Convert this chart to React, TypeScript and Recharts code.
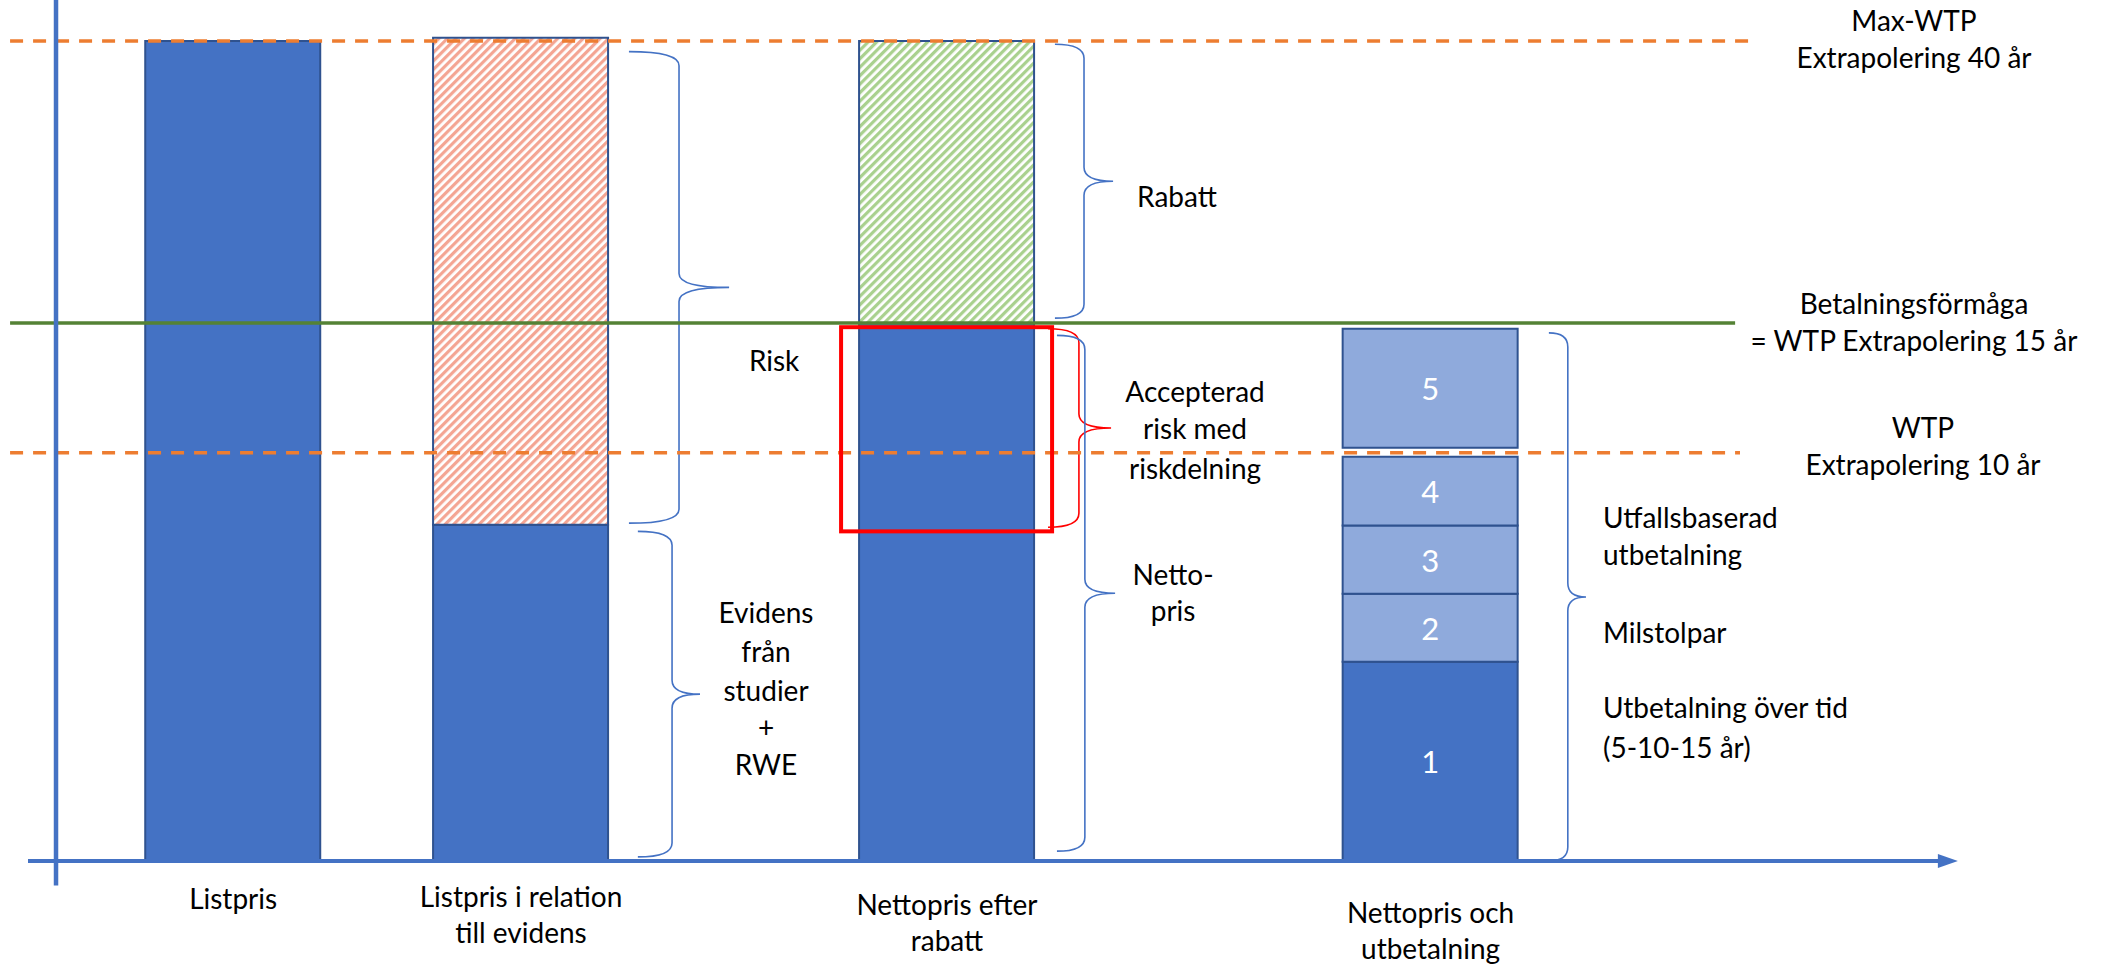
import React from "react";
import {
  ComposedChart,
  Bar,
  XAxis,
  YAxis,
  ReferenceLine,
  ReferenceArea,
  Cell,
  LabelList,
} from "recharts";

// --- data (value axis: Max-WTP = 100) ---
const categoryLines = [
  ["Listpris"],
  ["Listpris i relation", "till evidens"],
  ["Nettopris efter", "rabatt"],
  ["Nettopris och", "utbetalning"],
];
const categoryPos = [1, 2, 3.48, 5.16];
const solidValues = [100, 41, 65.6, 24.3];
const hatchedValues = [0, 59.4, 34.4, 0];
const seg2Values = [0, 0, 0, 8.3];
const seg3Values = [0, 0, 0, 8.3];
const seg4Values = [0, 0, 0, 8.4];
const gapValues = [0, 0, 0, 1.1];
const seg5Values = [0, 0, 0, 14.5];
const segmentNumbers = ["1", "2", "3", "4", "5"];

const maxWtp = 100;
const paymentCapacity = 65.6;
const wtp10 = 49.8;
// accepted risk (red box) on the net-price bar
const riskLow = 40.2;
const riskHigh = 65.1;

const data = categoryPos.map((pos, i) => ({
  pos,
  solid: solidValues[i],
  hatched: hatchedValues[i],
  s2: seg2Values[i],
  s3: seg3Values[i],
  s4: seg4Values[i],
  gap: gapValues[i],
  s5: seg5Values[i],
}));

const W = 2107;
const H = 966;
const FONT = "Lato, 'Open Sans', sans-serif";
const FS = 28;
const BLUE = "#4472C4";
const DARK = "#2F528F";
const LIGHT = "#8FAADC";
const ORANGE = "#ED7D31";
const GREEN = "#548235";
const rightLabelX = 1914;

// braces: x1 = left end, x2 = tip, y range in value units; label offsets from the tip
const braces = [
  { x1: 2.375, x2: 2.723, y1: 41.2, y2: 98.7, spine: 0.5, color: BLUE, anchor: "middle", dx: 45,
    lines: [["Risk", 73]] },
  { x1: 2.406, x2: 2.622, y1: 0.5, y2: 40.2, spine: 0.55, color: BLUE, anchor: "middle", dx: 66,
    lines: [["Evidens", -82], ["från", -43], ["studier", -4], ["+", 33], ["RWE", 70]] },
  { x1: 3.855, x2: 4.057, y1: 66.2, y2: 99.6, spine: 0.5, color: BLUE, anchor: "start", dx: 24,
    lines: [["Rabatt", 15]] },
  { x1: 3.831, x2: 4.05, y1: 40.7, y2: 64.9, spine: 0.49, color: "#FF0000", anchor: "middle", dx: 84,
    lines: [["Accepterad", -37], ["risk med", 0], ["riskdelning", 40]] },
  { x1: 3.862, x2: 4.064, y1: 1.2, y2: 64.1, spine: 0.48, color: BLUE, anchor: "middle", dx: 58,
    lines: [["Netto-", -19], ["pris", 17]] },
  { x1: 5.571, x2: 5.7, y1: 0, y2: 64.4, spine: 0.51, color: BLUE, anchor: "start", dx: 17,
    lines: [["Utfallsbaserad", -80], ["utbetalning", -43], ["Milstolpar", 35], ["Utbetalning över tid", 110], ["(5-10-15 år)", 150]] },
];

const labelDy = [37, 35, 43, 51];

const txt = (x: number, y: number, s: string, anchor = "middle", extra: any = {}) => (
  <text
    key={s + x + y}
    x={x}
    y={y}
    textAnchor={anchor}
    dominantBaseline="central"
    fontFamily={FONT}
    fontSize={FS}
    fill="#000"
    {...extra}
  >
    {s}
  </text>
);

const braceShape = (b: any) => (props: any) => {
  const { x, y, width, height } = props;
  const x0 = x;
  const x1 = x + width;
  const y0 = y;
  const y1 = y + height;
  const ym = y + height / 2;
  const xs = x0 + width * b.spine;
  const r = Math.min(14, height / 8);
  const d = `M${x0},${y0} Q${xs},${y0} ${xs},${y0 + r} L${xs},${ym - r} Q${xs},${ym} ${x1},${ym} Q${xs},${ym} ${xs},${ym + r} L${xs},${y1 - r} Q${xs},${y1} ${x0},${y1}`;
  return (
    <g>
      <path d={d} fill="none" stroke={b.color} strokeWidth={1.6} />
      {b.lines.map(([s, dy]: [string, number]) => txt(x1 + b.dx, ym + dy, s, b.anchor))}
    </g>
  );
};

const numberText = (cx: number, cy: number, k: number) => (
  <text
    x={cx}
    y={cy}
    textAnchor="middle"
    dominantBaseline="central"
    fontFamily={FONT}
    fontSize={31}
    fill="#fff"
  >
    {segmentNumbers[k]}
  </text>
);

// solid series: "1" on the last bar, and the red risk box on the net-price bar
const solidLabel = (props: any) => {
  const { x, y, width, height, index } = props;
  if (index === 3) return numberText(x + width / 2, y + height / 2, 0);
  if (index === 2) {
    const v = solidValues[2];
    const bottom = y + height;
    const top = bottom - (riskHigh / v) * height;
    const low = bottom - (riskLow / v) * height;
    const pad = 18;
    return (
      <rect x={x - pad} y={top} width={width + 2 * pad} height={low - top} fill="none" stroke="#FF0000" strokeWidth={4} />
    );
  }
  return null;
};

const segLabel = (k: number) => (props: any) => {
  const { x, y, width, height } = props;
  if (!(height > 1)) return null;
  return numberText(x + width / 2, y + height / 2, k);
};

const rightLabel = (lines: [string, number][], cx = rightLabelX) => (props: any) => {
  const y = props.viewBox ? props.viewBox.y : 0;
  return <g>{lines.map(([s, dy]) => txt(cx, y + dy, s))}</g>;
};

const CategoryTick = (props: any) => {
  const { x, y, payload } = props;
  const i = props.index != null ? props.index : categoryPos.indexOf(payload.value);
  const lines = categoryLines[i] || [];
  return <g>{lines.map((s, k) => txt(x, y + labelDy[i] + k * 36, s))}</g>;
};

export default function App() {
  return (
    <div style={{ position: "absolute", left: 0, top: 0, width: W, height: H, background: "#fff" }}>
      <ComposedChart width={W} height={H} data={data} margin={{ top: 0, right: 0, bottom: 0, left: 0 }}>
        <defs>
          <pattern id="hatchRed" patternUnits="userSpaceOnUse" width="6" height="6" patternTransform="rotate(45)">
            <rect width="6" height="6" fill="#fff" />
            <rect width="3.2" height="6" fill="#F4A593" />
          </pattern>
          <pattern id="hatchGreen" patternUnits="userSpaceOnUse" width="6" height="6" patternTransform="rotate(45)">
            <rect width="6" height="6" fill="#fff" />
            <rect width="3.2" height="6" fill="#A9D18E" />
          </pattern>
        </defs>
        <XAxis
          dataKey="pos"
          type="number"
          domain={[0.19, 7.51]}
          allowDataOverflow
          ticks={categoryPos}
          height={105}
          axisLine={false}
          tickLine={false}
          tickSize={0}
          tickMargin={0}
          interval={0}
          tick={<CategoryTick />}
        />
        <YAxis hide type="number" domain={[0, 105]} allowDataOverflow />

        {/* level lines */}
        <ReferenceLine
          segment={[{ x: 0.225, y: maxWtp }, { x: 6.29, y: maxWtp }]}
          stroke={ORANGE}
          strokeWidth={3.5}
          strokeDasharray="13 10"
          ifOverflow="visible"
          label={rightLabel([["Max-WTP", -21], ["Extrapolering 40 år", 16]])}
        />
        <ReferenceLine
          segment={[{ x: 0.225, y: paymentCapacity }, { x: 6.218, y: paymentCapacity }]}
          stroke={GREEN}
          strokeWidth={3.5}
          ifOverflow="visible"
          label={rightLabel([["Betalningsförmåga", -20], ["= WTP Extrapolering 15 år", 17]])}
        />
        <ReferenceLine
          segment={[{ x: 0.225, y: wtp10 }, { x: 6.235, y: wtp10 }]}
          stroke={ORANGE}
          strokeWidth={3.5}
          strokeDasharray="13 10"
          ifOverflow="visible"
          label={rightLabel([["WTP", -26], ["Extrapolering 10 år", 11]], 1923)}
        />

        <Bar dataKey="solid" stackId="a" barSize={175} fill={BLUE} stroke={DARK} strokeWidth={2} isAnimationActive={false}>
          <LabelList content={solidLabel} />
        </Bar>
        <Bar dataKey="hatched" stackId="a" barSize={175} stroke={DARK} strokeWidth={2} isAnimationActive={false}>
          {data.map((_, i) => (
            <Cell key={i} fill={i === 1 ? "url(#hatchRed)" : "url(#hatchGreen)"} />
          ))}
        </Bar>
        <Bar dataKey="s2" stackId="a" barSize={175} fill={LIGHT} stroke={DARK} strokeWidth={2} isAnimationActive={false}>
          <LabelList content={segLabel(1)} />
        </Bar>
        <Bar dataKey="s3" stackId="a" barSize={175} fill={LIGHT} stroke={DARK} strokeWidth={2} isAnimationActive={false}>
          <LabelList content={segLabel(2)} />
        </Bar>
        <Bar dataKey="s4" stackId="a" barSize={175} fill={LIGHT} stroke={DARK} strokeWidth={2} isAnimationActive={false}>
          <LabelList content={segLabel(3)} />
        </Bar>
        <Bar dataKey="gap" stackId="a" barSize={175} fill="none" stroke="none" isAnimationActive={false} />
        <Bar dataKey="s5" stackId="a" barSize={175} fill={LIGHT} stroke={DARK} strokeWidth={2} isAnimationActive={false}>
          <LabelList content={segLabel(4)} />
        </Bar>

        {braces.map((b, i) => (
          <ReferenceArea key={i} x1={b.x1} x2={b.x2} y1={b.y1} y2={b.y2} ifOverflow="visible" shape={braceShape(b)} />
        ))}

        {/* axes */}
        <ReferenceLine
          segment={[{ x: 0.3846, y: -3 }, { x: 0.3846, y: 105 }]}
          stroke={BLUE}
          strokeWidth={4.5}
          ifOverflow="visible"
        />
        <ReferenceLine
          segment={[{ x: 0.2873, y: 0 }, { x: 6.992, y: 0 }]}
          ifOverflow="visible"
          shape={(p: any) => (
            <g>
              <line x1={p.x1} y1={p.y1} x2={p.x2 - 14} y2={p.y2} stroke={BLUE} strokeWidth={4} />
              <polygon points={`${p.x2},${p.y2} ${p.x2 - 20},${p.y2 - 7} ${p.x2 - 20},${p.y2 + 7}`} fill={BLUE} />
            </g>
          )}
        />
      </ComposedChart>
    </div>
  );
}
